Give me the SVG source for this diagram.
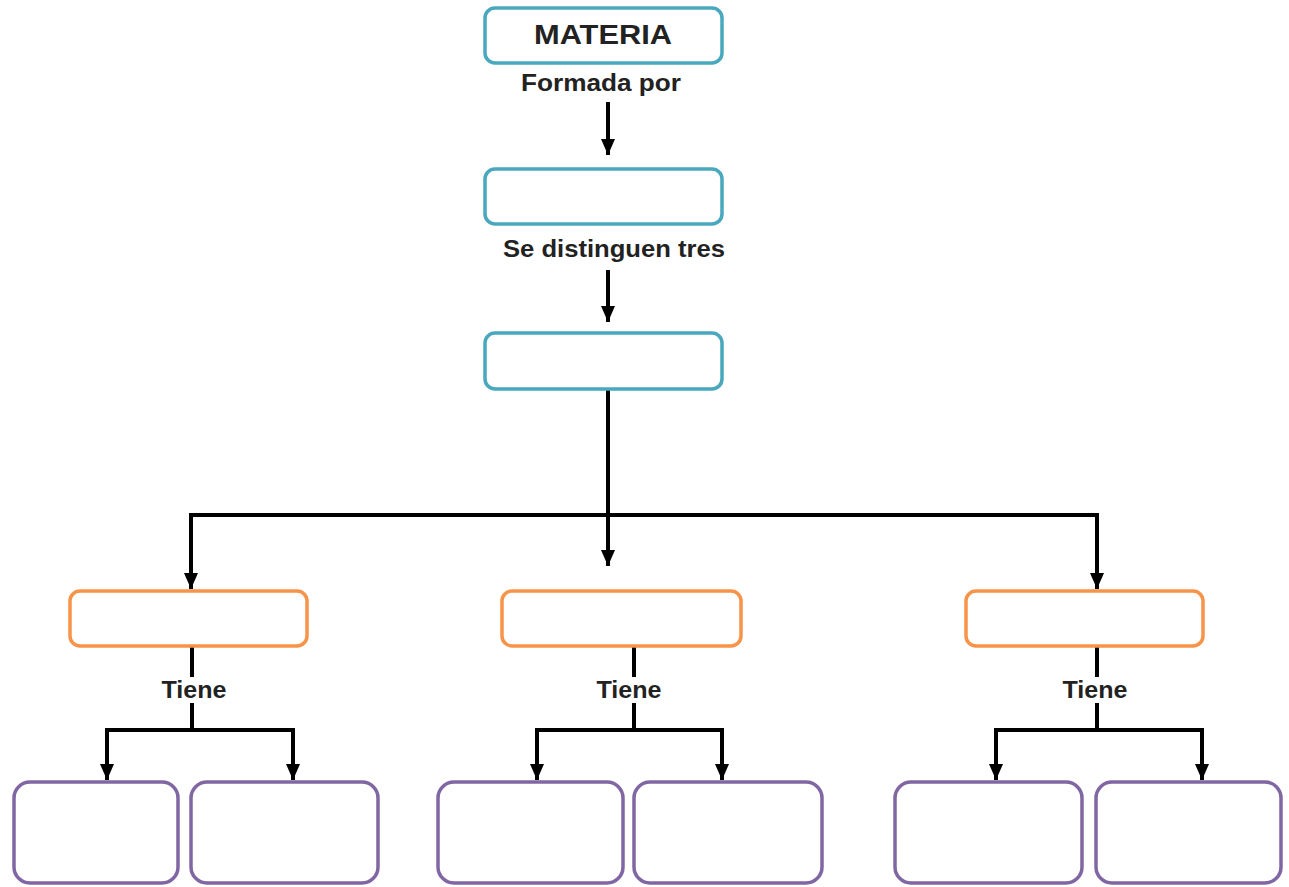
<svg xmlns="http://www.w3.org/2000/svg" width="1289" height="887" viewBox="0 0 1289 887">
<style>
.teal{fill:#fff;stroke:#4aa8be;stroke-width:3.5}
.orange{fill:#fff;stroke:#f7944a;stroke-width:3.5}
.purple{fill:#fff;stroke:#8166a4;stroke-width:3.5}
.conn{fill:none;stroke:#000;stroke-width:4;stroke-linejoin:miter}
.lbl{font-family:"Liberation Sans",Arial,sans-serif;font-weight:bold;fill:#222;text-anchor:middle}
</style>
<defs>
<marker id="ah" markerUnits="userSpaceOnUse" markerWidth="16" markerHeight="14" refX="16" refY="7" orient="auto" viewBox="0 0 16 14">
<path d="M0,0 L16,7 L0,14 Z" fill="#000"/>
</marker>
</defs>
<rect width="1289" height="887" fill="#fff"/>
<g id="connectors">
<line class="conn" x1="608" y1="102" x2="608" y2="155" marker-end="url(#ah)"/>
<line class="conn" x1="608" y1="270" x2="608" y2="322" marker-end="url(#ah)"/>
<line class="conn" x1="608" y1="390" x2="608" y2="566" marker-end="url(#ah)"/>
<path class="conn" d="M608,515 H191 V589" marker-end="url(#ah)"/>
<path class="conn" d="M608,515 H1097 V589" marker-end="url(#ah)"/>
<line class="conn" x1="192" y1="647" x2="192" y2="677"/>
<line class="conn" x1="192" y1="703" x2="192" y2="730"/>
<path class="conn" d="M192,730 H107 V780" marker-end="url(#ah)"/>
<path class="conn" d="M192,730 H293 V780" marker-end="url(#ah)"/>
<line class="conn" x1="634" y1="647" x2="634" y2="677"/>
<line class="conn" x1="634" y1="703" x2="634" y2="730"/>
<path class="conn" d="M634,730 H537 V780" marker-end="url(#ah)"/>
<path class="conn" d="M634,730 H722 V780" marker-end="url(#ah)"/>
<line class="conn" x1="1097" y1="647" x2="1097" y2="677"/>
<line class="conn" x1="1097" y1="703" x2="1097" y2="730"/>
<path class="conn" d="M1097,730 H996 V780" marker-end="url(#ah)"/>
<path class="conn" d="M1097,730 H1202 V780" marker-end="url(#ah)"/>
</g>
<g id="materia">
<rect class="teal" x="485" y="8" width="237" height="55" rx="10"/>
<text class="lbl" x="603" y="44" font-size="27" textLength="138" lengthAdjust="spacingAndGlyphs">MATERIA</text>
</g>
<text class="lbl" x="601" y="91" font-size="23" textLength="160" lengthAdjust="spacingAndGlyphs">Formada por</text>
<g id="box2"><rect class="teal" x="485" y="169" width="237" height="55" rx="10"/></g>
<text class="lbl" x="614" y="257" font-size="23" textLength="222" lengthAdjust="spacingAndGlyphs">Se distinguen tres</text>
<g id="box3"><rect class="teal" x="485" y="333" width="237" height="56" rx="10"/></g>
<g id="o1"><rect class="orange" x="70" y="591" width="237" height="55" rx="10"/></g>
<g id="o2"><rect class="orange" x="502" y="591" width="239" height="55" rx="10"/></g>
<g id="o3"><rect class="orange" x="966" y="591" width="237" height="55" rx="10"/></g>
<text class="lbl" x="194" y="698" font-size="23" textLength="65" lengthAdjust="spacingAndGlyphs">Tiene</text>
<text class="lbl" x="629" y="698" font-size="23" textLength="65" lengthAdjust="spacingAndGlyphs">Tiene</text>
<text class="lbl" x="1095" y="698" font-size="23" textLength="65" lengthAdjust="spacingAndGlyphs">Tiene</text>
<g id="p1"><rect class="purple" x="14" y="782" width="164" height="101" rx="16"/></g>
<g id="p2"><rect class="purple" x="191" y="782" width="187" height="101" rx="16"/></g>
<g id="p3"><rect class="purple" x="438" y="782" width="185" height="101" rx="16"/></g>
<g id="p4"><rect class="purple" x="634" y="782" width="188" height="101" rx="16"/></g>
<g id="p5"><rect class="purple" x="895" y="782" width="187" height="101" rx="16"/></g>
<g id="p6"><rect class="purple" x="1096" y="782" width="185" height="101" rx="16"/></g>
</svg>
